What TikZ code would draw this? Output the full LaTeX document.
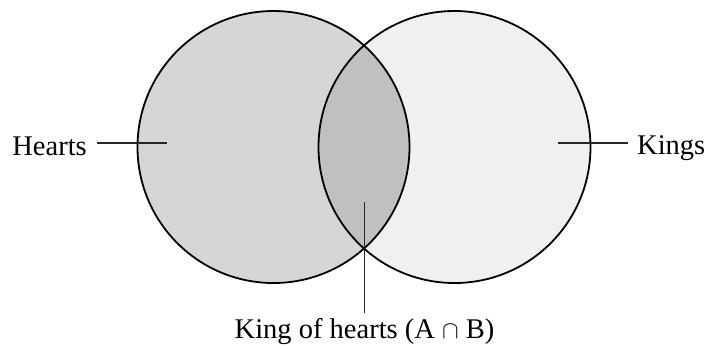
\documentclass[tikz,border=0pt]{standalone}
\usepackage{fontspec}
\setmainfont{Liberation Serif}
\usetikzlibrary{calc}
\definecolor{leftgray}{RGB}{214,214,214}
\definecolor{rightgray}{RGB}{240,240,240}
\definecolor{bothgray}{RGB}{192,192,192}
\begin{document}
\begin{tikzpicture}[x=1pt,y=-1pt,
  setc/.style={circle, draw=black, line width=1.8pt, minimum size=272pt, inner sep=0pt},
  lbl/.style={font=\fontsize{28.5}{31}\selectfont, inner sep=0pt},
  leader/.style={draw=black!85, line width=1.4pt}]
\useasboundingbox (0,0) rectangle (707,349);
% fills
\fill[rightgray] (454.5,147) circle[radius=136pt];
\fill[leftgray] (273.5,147) circle[radius=136pt];
\begin{scope}
  \clip (273.5,147) circle[radius=136pt];
  \fill[bothgray] (454.5,147) circle[radius=136pt];
\end{scope}
% set outlines
\node[setc] (A) at (273.5,147) {};
\node[setc] (B) at (454.5,147) {};
% labels
\node[lbl, anchor=base east] (hearts) at (87,155) {Hearts};
\node[lbl, anchor=base west] (kings) at (637,154) {Kings};
\node[lbl, anchor=base] (kh) at (364.5,338) {King of hearts (A $\cap$ B)};
% leader ends
\coordinate (hl) at (167,143);
\coordinate (kl) at (558,143);
\coordinate (khl) at (364.5,202);
\draw[leader] ($(hearts.east |- hl)+(10,0)$) -- (hl);
\draw[leader] (kl) -- ($(kings.west |- kl)+(-9,0)$);
\draw[leader] (khl) -- ($(kh.north)+(0,-5)$);
\end{tikzpicture}
\end{document}
